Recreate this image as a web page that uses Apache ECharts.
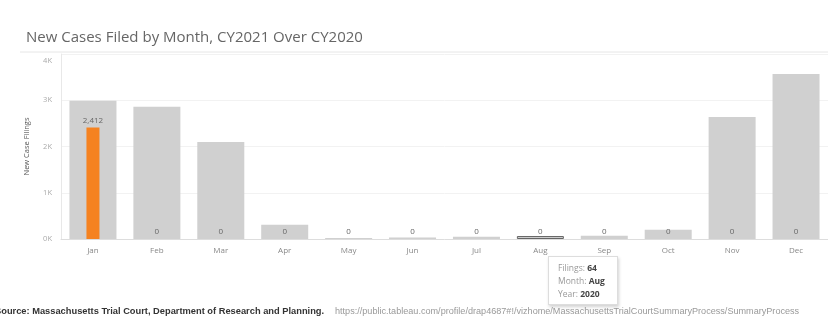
<!DOCTYPE html>
<html><head><meta charset="utf-8">
<script src="https://cdn.jsdelivr.net/npm/echarts@6/dist/echarts.min.js"></script>
<style>html,body{margin:0;padding:0;background:#fff;}#c{width:828px;height:324px;}</style>
</head><body><div id="c"></div>
<script>
const months = ['Jan','Feb','Mar','Apr','May','Jun','Jul','Aug','Sep','Oct','Nov','Dec'];
const filings2020 = [2990, 2860, 2100, 310, 20, 30, 50, 64, 70, 200, 2640, 3570];
const filings2021 = [2412, 0, 0, 0, 0, 0, 0, 0, 0, 0, 0, 0];
const yTicks = [0, 1000, 2000, 3000, 4000];
const highlightIndex = 7;
const titleText = 'New Cases Filed by Month, CY2021 Over CY2020';
const sourceText = 'Source: Massachusetts Trial Court, Department of Research and Planning.';
const urlText = 'https://public.tableau.com/profile/drap4687#!/vizhome/MassachusettsTrialCourtSummaryProcess/SummaryProcess';

const chart = echarts.init(document.getElementById('c'), null, {renderer: 'canvas'});
const fmt = v => v.toLocaleString('en-US');
const yMax = yTicks[yTicks.length - 1];
const data2020 = filings2020.map((v, i) => i === highlightIndex
  ? {value: v, itemStyle: {borderColor: '#666', borderWidth: 1}} : v);

chart.setOption({
  animation: false,
  title: {text: titleText, left: 21, top: 25,
    textStyle: {fontFamily: 'Open Sans', fontSize: 15, fontWeight: 'normal', color: '#666'}},
  grid: {left: 61, right: -11, top: 54, bottom: 85},
  tooltip: {
    trigger: 'item', alwaysShowContent: true, showDelay: 0, transitionDuration: 0,
    position: [548, 256],
    backgroundColor: '#fff', borderColor: '#ddd', borderWidth: 1, padding: [4, 12, 4, 9],
    extraCssText: 'box-shadow: 1px 2px 3px rgba(0,0,0,0.18); border-radius:0; line-height:13px;',
    textStyle: {fontFamily: 'Open Sans', fontSize: 8.5, color: '#999'},
    formatter: p => 'Filings: <b style="color:#444">' + fmt(filings2020[p.dataIndex]) + '</b><br>' +
      'Month: <b style="color:#444">' + months[p.dataIndex] + '</b><br>' +
      'Year: <b style="color:#444">2020</b>'
  },
  xAxis: [
    {type: 'category', data: months,
      axisLine: {lineStyle: {color: '#ddd'}}, axisTick: {show: false},
      axisLabel: {color: '#888', fontSize: 8, fontFamily: 'Open Sans', margin: 8}},
    {type: 'category', data: months, show: false}
  ],
  yAxis: {type: 'value', min: yTicks[0], max: yMax, interval: 1000,
    name: 'New Case Filings', nameLocation: 'middle', nameRotate: 90, nameGap: 30,
    nameTextStyle: {color: '#555', fontSize: 7.5, fontFamily: 'Open Sans'},
    axisLine: {show: true, lineStyle: {color: '#e8e8e8'}}, axisTick: {show: false},
    axisLabel: {color: '#aaa', fontSize: 7.5, fontFamily: 'Open Sans', margin: 9,
      formatter: v => v === yMax ? '{t|' + (v / 1000) + 'K}' : (v / 1000) + 'K',
      rich: {t: {color: '#aaa', fontSize: 7.5, fontFamily: 'Open Sans', padding: [13, 0, 0, 0]}}},
    splitLine: {lineStyle: {color: '#f2f2f2'}}},
  series: [
    {name: '2020', type: 'bar', xAxisIndex: 0, data: data2020, barWidth: 47,
      itemStyle: {color: '#d0d0d0'}, emphasis: {disabled: true}},
    {name: '2021', type: 'bar', xAxisIndex: 1, data: filings2021, barWidth: 13,
      itemStyle: {color: '#f58220'}, emphasis: {disabled: true}, tooltip: {show: false},
      label: {show: true, position: 'top', distance: 3, color: '#666', fontSize: 8,
        fontFamily: 'Open Sans', formatter: p => fmt(p.value)}}
  ],
  graphic: [
    {type: 'line', shape: {x1: 20, y1: 52, x2: 828, y2: 52}, style: {stroke: '#e6e6e6', lineWidth: 1}},
    {type: 'text', left: -5, top: 307, style: {text: sourceText, fill: '#333', font: 'bold 9.3px "Liberation Sans"'}},
    {type: 'text', left: 335, top: 307, style: {text: urlText, fill: '#999', font: '9.1px "Liberation Sans"'}}
  ]
});
chart.dispatchAction({type: 'showTip', seriesIndex: 0, dataIndex: highlightIndex});
</script></body></html>
